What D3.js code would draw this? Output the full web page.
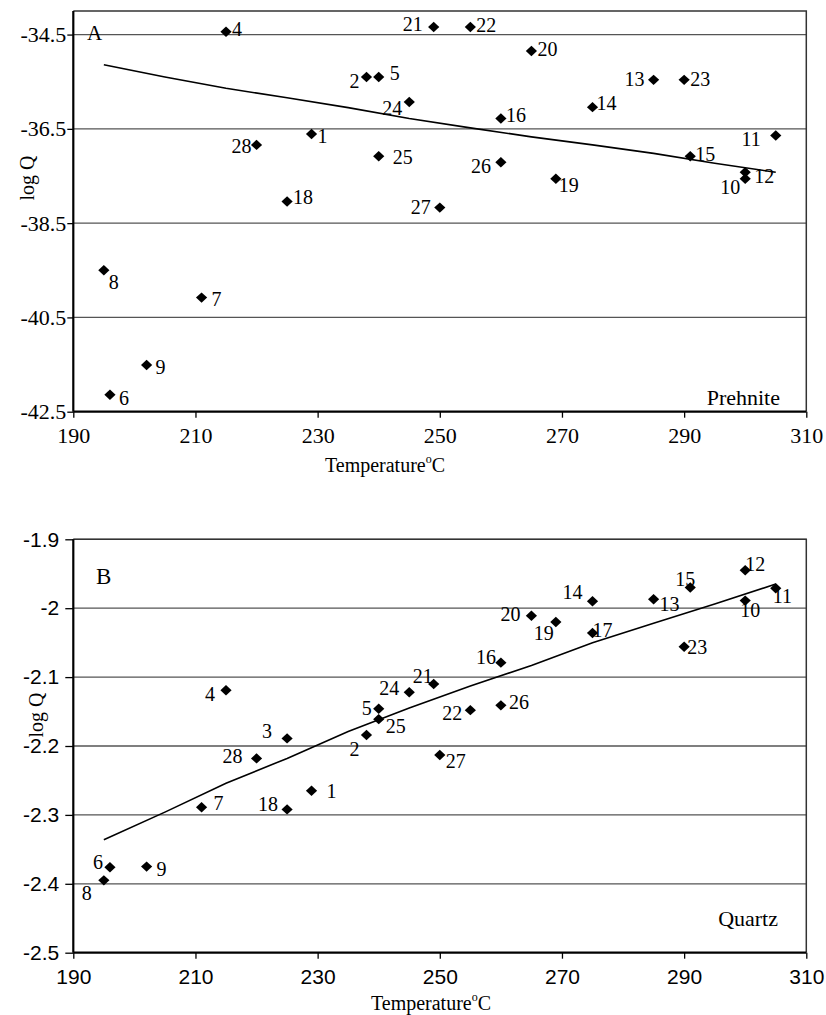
<!DOCTYPE html>
<html>
<head>
<meta charset="utf-8">
<script src="https://cdn.jsdelivr.net/npm/d3@7/dist/d3.min.js"></script>
<style>
  html, body { margin: 0; padding: 0; background: #fff; }
  svg { display: block; }
</style>
</head>
<body>
<svg id="chart" width="826" height="1015"></svg>
<script>
// Sample numbers and their homogenisation temperatures (°C)
const sampleIds = [1, 2, 3, 4, 5, 6, 7, 8, 9, 10, 11, 12, 13, 14, 15, 16, 17, 18, 19, 20, 21, 22, 23, 24, 25, 26, 27, 28];
const temperatures = [229, 238, 225, 215, 240, 196, 211, 195, 202, 300, 305, 300, 285, 275, 291, 260, 275, 225, 269, 265, 249, 255, 290, 245, 240, 260, 250, 220];

// log Q of prehnite (samples 3 and 17 not analysed)
const logQPrehnite = [-36.61, -35.40, null, -34.44, -35.40, -42.14, -40.08, -39.50, -41.51, -37.56, -36.64, -37.42, -35.46, -36.04, -37.08, -36.28, null, -38.04, -37.56, -34.85, -34.34, -34.34, -35.46, -35.93, -37.08, -37.21, -38.17, -36.84];

// log Q of quartz
const logQQuartz = [-2.265, -2.184, -2.189, -2.119, -2.146, -2.376, -2.289, -2.395, -2.375, -1.989, -1.971, -1.945, -1.987, -1.990, -1.970, -2.079, -2.036, -2.292, -2.020, -2.011, -2.110, -2.148, -2.056, -2.122, -2.161, -2.141, -2.213, -2.218];

// Equilibrium curves
const curveT = [195, 205, 215, 225, 235, 245, 255, 265, 275, 285, 295, 305];
const curvePrehnite = [-35.14, -35.40, -35.64, -35.84, -36.05, -36.28, -36.48, -36.67, -36.84, -37.02, -37.23, -37.42];
const curveQuartz = [-2.336, -2.296, -2.254, -2.218, -2.179, -2.145, -2.113, -2.083, -2.050, -2.022, -1.994, -1.965];

// Axis ticks
const xTicks = [190, 210, 230, 250, 270, 290, 310];
const yTicksPrehnite = [-42.5, -40.5, -38.5, -36.5, -34.5];
const yTicksQuartz = [-2.5, -2.4, -2.3, -2.2, -2.1, -2.0, -1.9];

// Where each sample number sits beside its marker: [dx, dy, anchor]
const placePrehnite = {
  1: [6, 9, "start"], 2: [-7, 11, "end"], 4: [6, 4, "start"], 5: [11, 3, "start"],
  6: [9, 10, "start"], 7: [10, 8, "start"], 8: [5, 19, "start"], 9: [9, 9, "start"],
  10: [-5, 15, "end"], 11: [-15, 11, "end"], 12: [9, 11, "start"], 13: [-9, 6, "end"],
  14: [4, 3, "start"], 15: [5, 5, "start"], 16: [5, 4, "start"], 18: [6, 3, "start"],
  19: [3, 13, "start"], 20: [6, 5, "start"], 21: [-11, 4, "end"], 22: [6, 5, "start"],
  23: [6, 6, "start"], 24: [-7, 13, "end"], 25: [14, 8, "start"], 26: [-10, 11, "end"],
  27: [-9, 6, "end"], 28: [-5, 8, "end"]
};
const placeQuartz = {
  1: [15, 7, "start"], 2: [-7, 21, "end"], 3: [-15, 0, "end"], 4: [-11, 11, "end"],
  5: [-7, 6, "end"], 6: [-7, 2, "end"], 7: [12, 3, "start"], 8: [-12, 20, "end"],
  9: [10, 9, "start"], 10: [-5, 16, "start"], 11: [-3, 15, "start"], 12: [0, 1, "start"],
  13: [6, 12, "start"], 14: [-10, -2, "end"], 15: [5, -2, "end"], 16: [-5, 1, "end"],
  17: [0, 4, "start"], 18: [-9, 2, "end"], 19: [-2, 18, "end"], 20: [-11, 5, "end"],
  21: [-1, -1, "end"], 22: [-8, 10, "end"], 23: [3, 7, "start"], 24: [-10, 3, "end"],
  25: [7, 14, "start"], 26: [8, 4, "start"], 27: [6, 13, "start"], 28: [-14, 5, "end"]
};

const SERIF = "'Liberation Serif', 'Times New Roman', serif";
const SANS = "'Liberation Sans', Arial, sans-serif";

const svg = d3.select("#chart");

function drawPanel(p) {
  const x = d3.scaleLinear().domain([190, 310]).range([73.3, 806.3]);
  const y = d3.scaleLinear().domain(p.yDomain).range(p.yRange);
  const g = svg.append("g");
  const [x0, x1] = x.range();
  const [yb, yt] = y.range();

  // horizontal gridlines
  g.selectAll("line.grid")
    .data(p.yTicks.filter(d => d !== p.yDomain[0]))
    .join("line")
    .attr("x1", x0).attr("x2", x1)
    .attr("y1", d => y(d)).attr("y2", d => y(d))
    .attr("stroke", "#555").attr("stroke-width", 1.3);

  // plot frame (top and right)
  g.append("path")
    .attr("d", `M${x0},${yt}H${x1}V${yb}`)
    .attr("fill", "none").attr("stroke", "#333").attr("stroke-width", 1.5);

  // axes
  const fmt = d => String(d);
  const yAxis = g.append("g").attr("transform", `translate(${x0},0)`)
    .call(d3.axisLeft(y).tickValues(p.yTicks).tickSize(p.yTickSize).tickPadding(p.yTickPad).tickFormat(fmt));
  const xAxis = g.append("g").attr("transform", `translate(0,${yb})`)
    .call(d3.axisBottom(x).tickValues(xTicks).tickSize(6).tickPadding(p.xTickPad).tickFormat(fmt));
  [yAxis, xAxis].forEach(a => {
    a.select(".domain").attr("stroke", "#000").attr("stroke-width", 2.2);
    a.selectAll(".tick line").attr("stroke", "#000").attr("stroke-width", 1.3);
    a.selectAll(".tick text")
      .attr("fill", "#000")
      .style("font-family", p.tickFont)
      .style("font-size", p.tickSize + "px");
  });
  yAxis.select(".domain").attr("d", `M0,${yb}V${yt}`);
  xAxis.select(".domain").attr("d", `M${x0},0H${x1}`);

  // equilibrium curve
  const line = d3.line().x(d => x(d[0])).y(d => y(d[1]));
  g.append("path")
    .datum(curveT.map((t, i) => [t, p.curve[i]]))
    .attr("d", line)
    .attr("fill", "none").attr("stroke", "#000").attr("stroke-width", 1.6);

  // samples
  const pts = sampleIds.map((id, i) => ({ id, t: temperatures[i], q: p.values[i] }))
    .filter(d => d.q !== null);
  g.selectAll("path.pt")
    .data(pts)
    .join("path")
    .attr("d", "M0,-5.2L5.6,0L0,5.2L-5.6,0Z")
    .attr("transform", d => `translate(${x(d.t)},${y(d.q)})`)
    .attr("fill", "#000");

  g.selectAll("text.pt")
    .data(pts)
    .join("text")
    .attr("x", d => x(d.t) + p.place[d.id][0])
    .attr("y", d => y(d.q) + p.place[d.id][1])
    .attr("text-anchor", d => p.place[d.id][2])
    .style("font-family", SERIF)
    .style("font-size", "20px")
    .text(d => d.id);

  // panel letter and mineral name
  g.append("text").attr("x", p.letterX).attr("y", p.letterY)
    .style("font-family", SERIF).style("font-size", p.letterSize + "px").text(p.letter);
  g.append("text").attr("x", p.mineralX).attr("y", p.mineralY).attr("text-anchor", "end")
    .style("font-family", SERIF).style("font-size", "22px").text(p.mineral);

  // axis titles
  const xt = g.append("text").attr("x", p.xTitleX).attr("y", p.xTitleY).attr("text-anchor", "middle")
    .style("font-family", SERIF).style("font-size", "20px");
  xt.append("tspan").text("Temperature");
  xt.append("tspan").attr("dy", -9).style("font-size", "12px").text("o");
  xt.append("tspan").attr("dy", 9).text("C");

  g.append("text")
    .attr("transform", `translate(${p.yTitleX},${p.yTitleY}) rotate(-90)`)
    .attr("text-anchor", "middle").attr("dy", "0.35em")
    .style("font-family", SERIF).style("font-size", "20px")
    .text("log Q");
}

drawPanel({
  yDomain: [-42.5, -34], yRange: [411.7, 11], yTicks: yTicksPrehnite,
  values: logQPrehnite, curve: curvePrehnite, place: placePrehnite,
  tickFont: SERIF, tickSize: 22, yTickSize: 6, yTickPad: 1, xTickPad: 10,
  letter: "A", letterX: 87, letterY: 40, letterSize: 21,
  mineral: "Prehnite", mineralX: 780, mineralY: 405,
  xTitleX: 385, xTitleY: 472, yTitleX: 27, yTitleY: 178
});

drawPanel({
  yDomain: [-2.5, -1.9], yRange: [952.7, 539.3], yTicks: yTicksQuartz,
  values: logQQuartz, curve: curveQuartz, place: placeQuartz,
  tickFont: SANS, tickSize: 21, yTickSize: 8, yTickPad: 6, xTickPad: 10,
  letter: "B", letterX: 96, letterY: 584, letterSize: 23,
  mineral: "Quartz", mineralX: 778, mineralY: 926,
  xTitleX: 431, xTitleY: 1010, yTitleX: 36, yTitleY: 715
});
</script>
</body>
</html>
